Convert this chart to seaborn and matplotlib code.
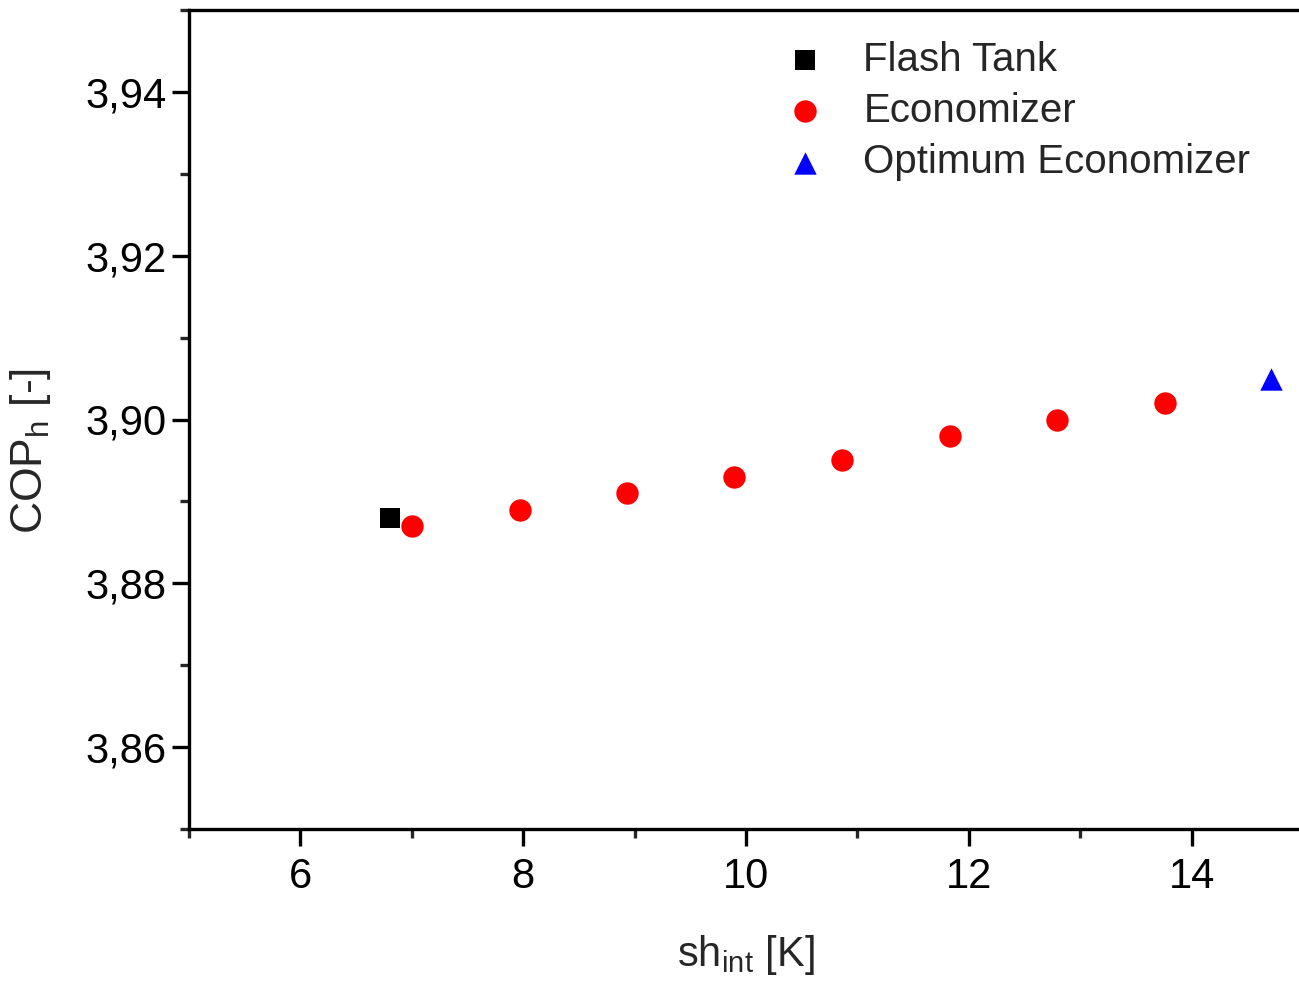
import matplotlib
matplotlib.use("Agg")
import matplotlib.pyplot as plt
import seaborn as sns
import pandas as pd
from matplotlib.ticker import MultipleLocator, FuncFormatter

flash_x = [6.80]
flash_y = [3.888]
eco_x = [7.00, 7.97, 8.93, 9.89, 10.86, 11.83, 12.79, 13.76]
eco_y = [3.887, 3.889, 3.891, 3.893, 3.895, 3.898, 3.900, 3.902]
opt_x = [14.71]
opt_y = [3.905]

sns.set_style("ticks")
plt.rcParams['font.family'] = ['Liberation Sans', 'DejaVu Sans']
plt.rcParams['mathtext.default'] = 'regular'

fig = plt.figure(figsize=(12.99, 9.83), dpi=100)
ax = fig.add_axes([189/1299, 1-829/983, (1303-189)/1299, (829-10)/983])

sns.scatterplot(x=flash_x, y=flash_y, ax=ax, marker='s', color='black', s=190,
                linewidth=0, label='Flash Tank')
sns.scatterplot(x=eco_x, y=eco_y, ax=ax, marker='o', color='red', s=260,
                linewidth=0, label='Economizer')
sns.scatterplot(x=opt_x, y=opt_y, ax=ax, marker='^', color='blue', s=260,
                linewidth=0, label='Optimum Economizer')

ax.set_xlim(5, 15)
ax.set_ylim(3.85, 3.95)
ax.xaxis.set_major_locator(MultipleLocator(2))
ax.xaxis.set_minor_locator(MultipleLocator(1))
ax.yaxis.set_major_locator(MultipleLocator(0.02))
ax.yaxis.set_minor_locator(MultipleLocator(0.01))
ax.yaxis.set_major_formatter(FuncFormatter(lambda v, p: f"{v:.2f}".replace('.', ',')))
ax.xaxis.set_major_formatter(FuncFormatter(lambda v, p: f"{v:.0f}"))

for s in ax.spines.values():
    s.set_linewidth(2.4)
    s.set_color('black')
ax.spines['right'].set_visible(False)

ax.tick_params(which='major', direction='out', length=12, width=2.4, labelsize=30, pad=4,
               colors='black')
ax.tick_params(which='minor', direction='out', length=6.5, width=2.4)
ax.tick_params(axis='x', which='major', pad=8)
ax.tick_params(axis='x', which='both', top=False)
ax.tick_params(axis='y', which='both', right=False)

ax.set_xlabel('sh$_{int}$ [K]', fontsize=30, labelpad=26)
ax.set_ylabel('COP$_{h}$ [-]', fontsize=32)
ax.yaxis.set_label_coords(-0.122, 0.4615)

leg = ax.legend(loc='upper right', bbox_to_anchor=(0.978, 0.997), frameon=False, fontsize=29,
                labelspacing=0.33, handletextpad=0.44, borderaxespad=0.3, markerscale=1.0)

fig.savefig("out.png", dpi=100)
